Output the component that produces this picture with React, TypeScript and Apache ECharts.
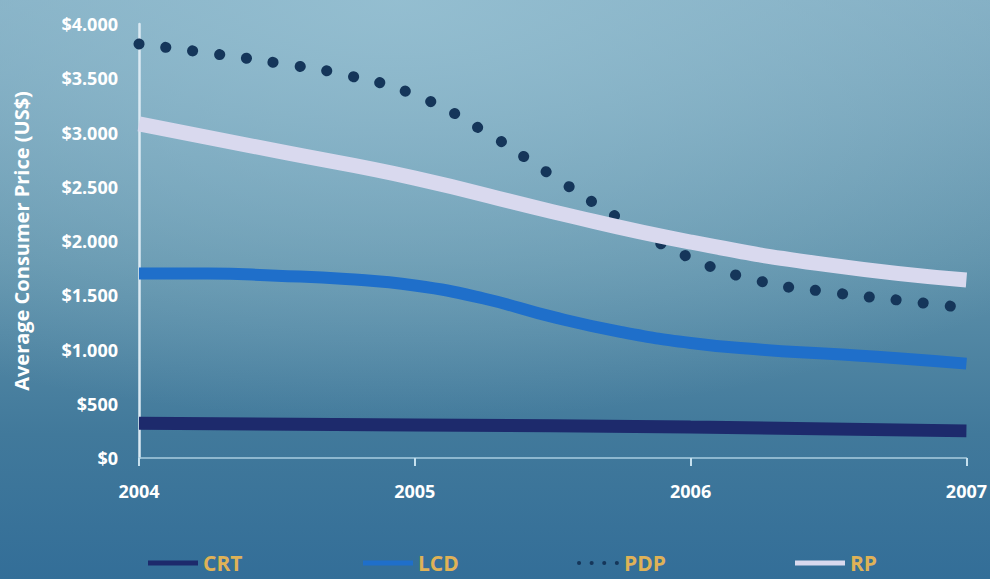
import React, { useEffect, useRef } from "react";
import * as echarts from "echarts";

// Average consumer price by display technology, 2004–2007 (US$)
const years = [2004, 2005, 2006, 2007];
const yTicks = [0, 500, 1000, 1500, 2000, 2500, 3000, 3500, 4000];

const crtX = [2004, 2005, 2006, 2007];
const crtY = [320, 305, 285, 250];

const lcdX = [2004, 2004.25, 2004.5, 2004.75, 2005, 2005.25, 2005.5, 2005.75, 2006, 2006.25, 2006.5, 2006.75, 2007];
const lcdY = [1700, 1700, 1680, 1650, 1590, 1470, 1300, 1160, 1060, 1000, 960, 920, 870];

const pdpX = [2004, 2004.25, 2004.5, 2004.75, 2005, 2005.25, 2005.5, 2005.75, 2006, 2006.25, 2006.5, 2006.75, 2007];
const pdpY = [3816, 3733, 3641, 3530, 3346, 3014, 2599, 2194, 1843, 1631, 1530, 1456, 1383];

const rpX = [2004, 2004.5, 2005, 2005.5, 2006, 2006.5, 2007];
const rpY = [3080, 2830, 2580, 2270, 1990, 1780, 1640];

const seriesNames = ["CRT", "LCD", "PDP", "RP"];
const seriesColors = ["#1d2a6c", "#1f6fca", "#15365a", "#d9d9ee"];

const pairs = (xs: number[], ys: number[]) => xs.map((x, i) => [x, ys[i]]);

const FONT = "'Open Sans', 'DejaVu Sans', sans-serif";

function money(v: number) {
  const s = String(Math.round(v));
  return "$" + s.replace(/\B(?=(\d{3})+(?!\d))/g, ".");
}

export default function App() {
  const ref = useRef<HTMLDivElement>(null);

  useEffect(() => {
    if (!ref.current) return;
    const chart = echarts.init(ref.current, undefined, { renderer: "svg" });

    const legendLefts = [148, 363, 577, 795];
    const legends = seriesNames.map((name, i) => {
      const base: any = {
        data: [name],
        left: legendLefts[i],
        top: 552,
        orient: "horizontal",
        itemWidth: name === "PDP" ? 40 : 50,
        itemHeight: 5,
        itemGap: 0,
        padding: 0,
        textStyle: {
          color: "#dfb257",
          fontSize: 21,
          fontWeight: "bold",
          fontFamily: FONT,
          lineHeight: 22,
        },
        selectedMode: false,
      };
      if (name === "PDP") {
        base.itemHeight = 8;
        base.lineStyle = { width: 4, type: [0.1, 12.5], cap: "round", color: seriesColors[2] };
        base.itemStyle = { opacity: 0 };
      } else {
        base.icon = "rect";
      }
      return base;
    });

    const lineSeries = (name: string, xs: number[], ys: number[], idx: number, lineStyle: any) => ({
      name,
      type: "line",
      smooth: true,
      symbol: "none",
      data: pairs(xs, ys),
      color: seriesColors[idx],
      lineStyle: { color: seriesColors[idx], ...lineStyle },
    });

    chart.setOption({
      animation: false,
      backgroundColor: "transparent",
      grid: { left: 139, right: 22, top: 24, bottom: 121, containLabel: false },
      legend: legends,
      xAxis: {
        type: "value",
        min: years[0],
        max: years[years.length - 1],
        interval: 1,
        axisLine: { show: true, lineStyle: { color: "#a9cde0", width: 1.5 } },
        axisTick: { show: true, length: 8, lineStyle: { color: "#c6e0ee", width: 2 } },
        splitLine: { show: false },
        axisLabel: {
          color: "#ffffff",
          fontSize: 18,
          fontWeight: "bold",
          fontFamily: FONT,
          margin: 24,
          formatter: (v: number) => String(v),
        },
      },
      yAxis: {
        type: "value",
        min: yTicks[0],
        max: yTicks[yTicks.length - 1],
        interval: 500,
        name: "Average Consumer Price (US$)",
        nameLocation: "middle",
        nameGap: 108,
        nameTextStyle: {
          color: "#ffffff",
          fontSize: 20,
          fontWeight: "bold",
          fontFamily: FONT,
        },
        axisLine: { show: true, lineStyle: { color: "#dbeaf3", width: 2.5 } },
        axisTick: { show: false },
        splitLine: { show: false },
        axisLabel: {
          color: "#ffffff",
          fontSize: 18,
          fontWeight: "bold",
          fontFamily: FONT,
          margin: 21,
          formatter: (v: number) => money(v),
        },
      },
      series: [
        lineSeries("CRT", crtX, crtY, 0, { width: 13 }),
        lineSeries("LCD", lcdX, lcdY, 1, { width: 12 }),
        lineSeries("PDP", pdpX, pdpY, 2, { width: 11, type: [0.1, 27], cap: "round" }),
        lineSeries("RP", rpX, rpY, 3, { width: 15 }),
      ],
    });

    return () => chart.dispose();
  }, []);

  return (
    <div
      style={{
        position: "fixed",
        left: 0,
        top: 0,
        width: 990,
        height: 579,
        overflow: "hidden",
        background:
          "radial-gradient(ellipse 900px 420px at 40% 0%, rgba(150,192,210,0.9) 0%, rgba(150,192,210,0) 100%), linear-gradient(180deg, #7eaac0 0%, #5e91aa 45%, #41799b 75%, #336e98 100%)",
      }}
    >
      <div ref={ref} style={{ width: 990, height: 579 }} />
    </div>
  );
}
